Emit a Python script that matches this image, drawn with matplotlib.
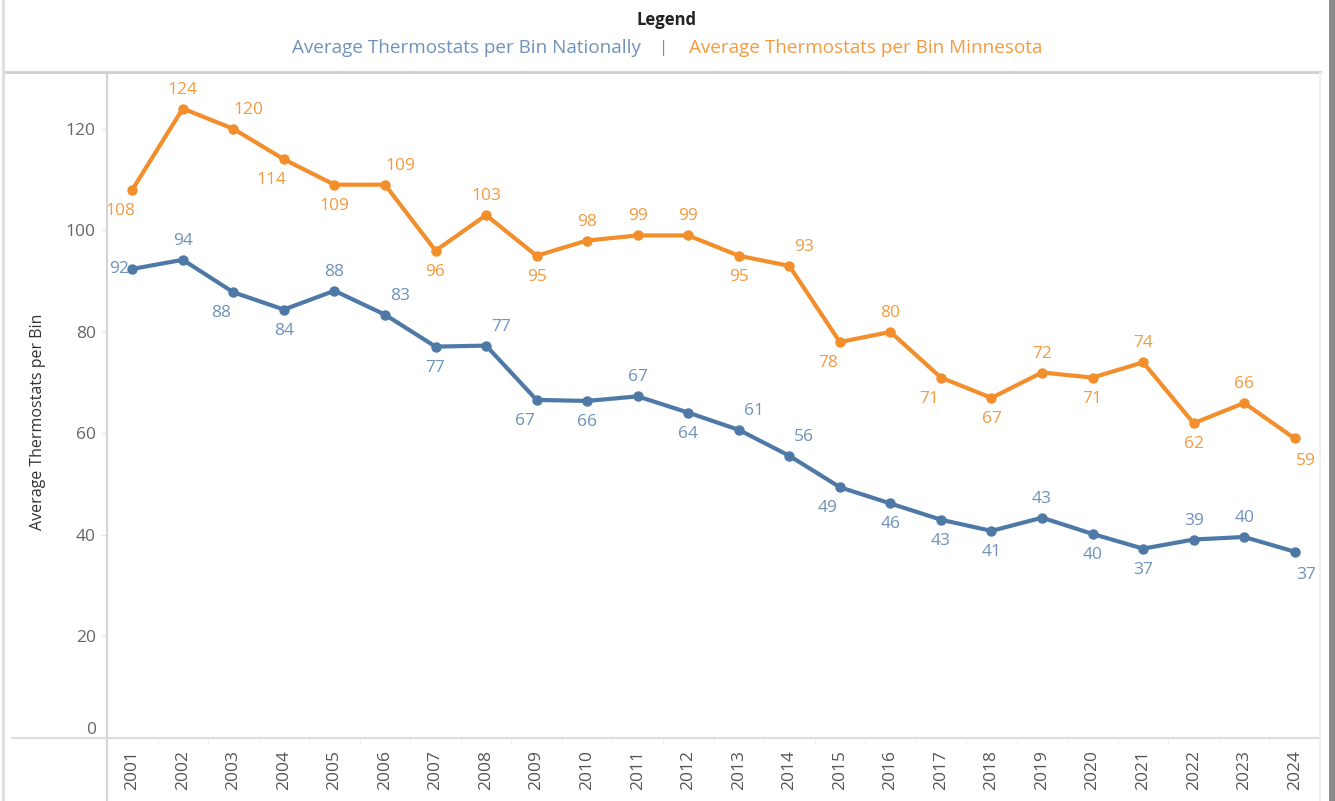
"""
Average thermostats per bin, national vs Minnesota, 2001-2024.
Tableau-style line chart with data labels.
"""
import matplotlib.pyplot as plt
from matplotlib.lines import Line2D

plt.rcParams['font.family'] = ['Open Sans', 'DejaVu Sans']

years = list(range(2001, 2025))
national = [92.4, 94.2, 87.8, 84.4, 88.1, 83.4, 77.1, 77.3, 66.6, 66.4, 67.3, 64.1,
            60.7, 55.6, 49.4, 46.2, 43.0, 40.8, 43.4, 40.2, 37.3, 39.1, 39.6, 36.7]
minnesota = [108, 124, 120, 114, 109, 109, 96, 103, 95, 98, 99, 99,
             95, 93, 78, 80, 71, 67, 72, 71, 74, 62, 66, 59]
y_ticks = [0, 20, 40, 60, 80, 100, 120]

# where each data label sits relative to its point
national_pos = ['l', 'a', 'bl', 'b', 'a', 'ar', 'b', 'ar', 'bl', 'b', 'a', 'b',
                'ar', 'ar', 'bl', 'b', 'b', 'b', 'a', 'b', 'b', 'a', 'a', 'br']
minnesota_pos = ['bl', 'a', 'ar', 'bl', 'b', 'ar', 'b', 'a', 'b', 'a', 'a', 'a',
                 'b', 'ar', 'bl', 'a', 'bl', 'b', 'a', 'b', 'a', 'b', 'a', 'br']
offsets_px = {'a': (0, 19), 'b': (0, -21), 'ar': (15, 19), 'bl': (-12, -21),
              'br': (11, -23), 'l': (-13, 0)}

BLUE = '#4E79A7'
ORANGE = '#F28E2B'
BLUE_TXT = '#6F92BA'
ORANGE_TXT = '#F59A3E'

W, H = 1335, 801
fig = plt.figure(figsize=(W / 100, H / 100), dpi=100)
fig.patch.set_facecolor('white')

L, R, B, T = 107, 1320, 738, 73
ax = fig.add_axes([L / W, 1 - B / H, (R - L) / W, (B - T) / H])


def add_series(values, positions, color, txt_color):
    ax.plot(years, values, color=color, lw=3.0, marker='o', ms=6.5,
            solid_joinstyle='round', zorder=3)
    for x, v, p in zip(years, values, positions):
        dx, dy = offsets_px[p]
        ax.annotate(f"{v:.0f}", (x, v), xytext=(dx * 0.72, dy * 0.72),
                    textcoords='offset points', ha='center', va='center',
                    fontsize=12.5, color=txt_color, zorder=4)


add_series(minnesota, minnesota_pos, ORANGE, ORANGE_TXT)
add_series(national, national_pos, BLUE, BLUE_TXT)

ax.set_xlim(2000.5, 2024.5)
ax.set_ylim(0, 131)
ax.set_yticks(y_ticks)
ax.set_yticklabels([str(t) for t in y_ticks])
ax.set_xticks(years)
ax.set_xticklabels([str(y) for y in years], rotation=90)
ax.tick_params(axis='y', colors='#e3e3e3', labelcolor='#666666', labelsize=12.5,
               length=4, pad=4)
ax.tick_params(axis='x', length=0, labelcolor='#555555', labelsize=12.5, pad=9)
zero_lbl = ax.yaxis.get_ticklabels()[0]
zero_lbl.set_verticalalignment('bottom')
for s in ax.spines.values():
    s.set_visible(False)

# faint separators between year bands
ax.set_xticks([y + 0.5 for y in years[:-1]], minor=True)
ax.tick_params(axis='x', which='minor', length=4, color='#eeeeee', direction='out')

# frame lines drawn in figure pixels
def fline(x0, y0, x1, y1, color, lw):
    fig.add_artist(Line2D([x0 / W, x1 / W], [1 - y0 / H, 1 - y1 / H],
                          color=color, lw=lw, transform=fig.transFigure))


fline(L, T, L, H, '#d4d4d4', 1.5)          # left axis line
fline(12, B, R, B, '#dcdcdc', 1.5)         # bottom axis line
fline(5, T - 1, R, T - 1, '#d0d0d0', 2.0)  # header separator
fline(R, T, R, H, '#eeeeee', 1.2)
fline(3, 0, 3, H, '#dddddd', 2.0)
fline(1332, 0, 1332, H, '#8a8a8a', 5.0)

fig.text(38 / W, 1 - 422 / H, 'Average Thermostats per Bin', rotation=90,
         ha='center', va='center', fontsize=11.5, color='#333333')

# legend header
fig.text(666 / W, 1 - 20 / H, 'Legend', ha='center', va='center',
         fontsize=12, fontweight='bold', color='#222222')
fig.text(641 / W, 1 - 48 / H, 'Average Thermostats per Bin Nationally',
         ha='right', va='center', fontsize=13.6, color=BLUE_TXT)
fig.text(664 / W, 1 - 48 / H, '|', ha='center', va='center',
         fontsize=12, color='#888888')
fig.text(689 / W, 1 - 48 / H, 'Average Thermostats per Bin Minnesota',
         ha='left', va='center', fontsize=13.6, color=ORANGE_TXT)

fig.savefig('out.png', dpi=100, facecolor='white')
